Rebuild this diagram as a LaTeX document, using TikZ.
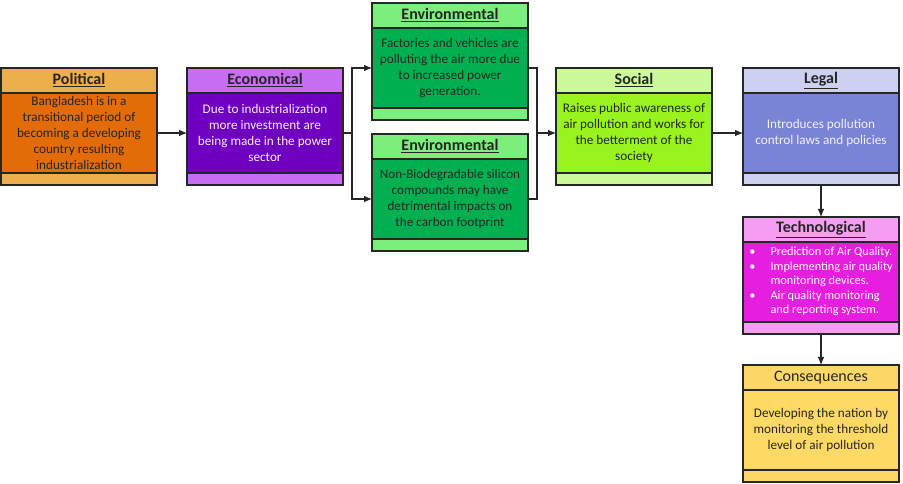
\documentclass[tikz,border=0pt]{standalone}
\usepackage{fontspec}
\setmainfont{Carlito}
\usetikzlibrary{arrows.meta}
\definecolor{polH}{HTML}{EBB04A}\definecolor{polB}{HTML}{E36C09}
\definecolor{ecoH}{HTML}{C76EF2}\definecolor{ecoB}{HTML}{7000C0}
\definecolor{envH}{HTML}{7CEE7C}\definecolor{envB}{HTML}{00B050}
\definecolor{socH}{HTML}{CCFA9A}\definecolor{socB}{HTML}{99F31F}
\definecolor{legH}{HTML}{CDD0EE}\definecolor{legB}{HTML}{7A84D4}
\definecolor{tecH}{HTML}{F59DF1}\definecolor{tecB}{HTML}{E61EE0}
\definecolor{conH}{HTML}{FDD868}\definecolor{conB}{HTML}{FFD966}
\definecolor{darktxt}{HTML}{262626}
\definecolor{lighttxt}{HTML}{F2EEFF}
\definecolor{edge}{HTML}{262626}
\newcommand{\pestbox}[8]{%
  \node[hd, fill=#4] (#1-h) at (#2,#3) {#6};
  \node[bd, fill=#5, text=#8] (#1-b) at (#1-h.south west) {#7};
  \node[ft, fill=#4] (#1-f) at (#1-b.south west) {};
}
\newcommand{\blt}{\makebox[16pt][l]{•}}
\begin{document}
\begin{tikzpicture}[x=0.75pt,y=-0.75pt,
  box/.style={draw=edge, line width=0.8pt, anchor=north west, minimum width=117pt, inner sep=1pt, outer sep=0pt},
  hd/.style={box, minimum height=18.75pt, font=\fontsize{12}{14}\selectfont\bfseries, text=darktxt},
  bd/.style={box, minimum height=60pt, align=center, font=\fontsize{9.9}{12}\selectfont},
  ft/.style={box, minimum height=9pt},
  conn/.style={draw=edge, line width=0.8pt},
  arr/.style={conn, -{Latex[length=6pt,width=5pt]}}]
\useasboundingbox (0,0) rectangle (903,484);
\pestbox{pol}{1}{68}{polH}{polB}{\underline{Political}}{Bangladesh is in a\\transitional period of\\becoming a developing\\country resulting\\industrialization}{darktxt}
\pestbox{eco}{187}{68}{ecoH}{ecoB}{\underline{Economical}}{Due to industrialization\\more investment are\\being made in the power\\sector}{lighttxt}
\pestbox{enva}{372}{3}{envH}{envB}{\underline{Environmental}}{Factories and vehicles are\\polluting the air more due\\to increased power\\generation.}{darktxt}
\pestbox{envb}{372}{134}{envH}{envB}{\underline{Environmental}}{Non-Biodegradable silicon\\compounds may have\\detrimental impacts on\\the carbon footprint}{darktxt}
\pestbox{soc}{556}{68}{socH}{socB}{\underline{Social}}{Raises public awareness of\\air pollution and works for\\the betterment of the\\society}{darktxt}
\pestbox{leg}{743}{68}{legH}{legB}{\underline{Legal}}{Introduces pollution\\control laws and policies}{lighttxt}
\pestbox{tec}{743}{217}{tecH}{tecB}{\underline{Technological}}{\fontsize{9.2}{10.9}\selectfont\begin{tabular}{@{}l@{}}\blt Prediction of Air Quality.\\\blt Implementing air quality\\\hspace*{16pt}monitoring devices.\\\blt Air quality monitoring\\\hspace*{16pt}and reporting system.\end{tabular}}{white}
\pestbox{con}{743}{365}{conH}{conB}{\mdseries Consequences}{Developing the nation by\\monitoring the threshold\\level of air pollution}{darktxt}
% connectors
\draw[arr] (pol-b.east) -- (eco-b.west);
\draw[conn] (eco-b.east) -- ++(9,0) coordinate (split);
\draw[arr] (split) |- (enva-b.west);
\draw[arr] (split) |- (envb-b.west);
\draw[conn] (enva-b.east) -- ++(9,0) coordinate (merge) |- (envb-b.east);
\draw[arr] (merge |- soc-b.west) -- (soc-b.west);
\draw[arr] (soc-b.east) -- (leg-b.west);
\draw[arr] (leg-f.south) -- (tec-h.north);
\draw[arr] (tec-f.south) -- (con-h.north);
\end{tikzpicture}
\end{document}
